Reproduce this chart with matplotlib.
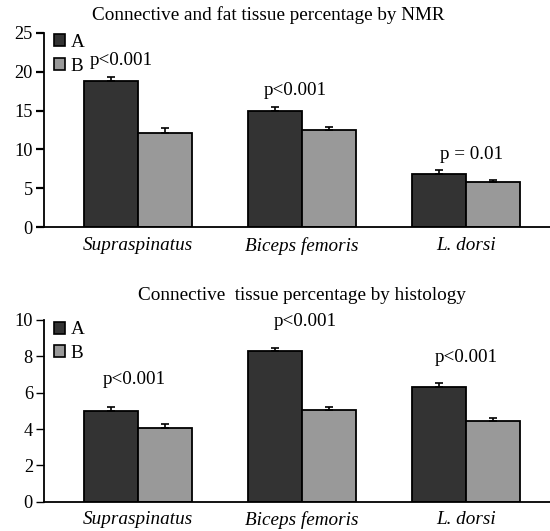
import numpy as np
import matplotlib.pyplot as plt
from matplotlib.patches import Patch

plt.rcParams['font.family'] = ['Liberation Serif', 'DejaVu Serif']

# Data
muscles = ['Supraspinatus', 'Biceps femoris', 'L. dorsi']
groups = ['A', 'B']

nmr_a = [18.85, 14.95, 6.87]
nmr_a_err = [0.45, 0.45, 0.45]
nmr_b = [12.1, 12.5, 5.85]
nmr_b_err = [0.6, 0.4, 0.15]
nmr_p = ['p<0.001', 'p<0.001', 'p = 0.01']

hist_a = [4.99, 8.29, 6.31]
hist_a_err = [0.2, 0.15, 0.2]
hist_b = [4.07, 5.03, 4.46]
hist_b_err = [0.2, 0.18, 0.16]
hist_p = ['p<0.001', 'p<0.001', 'p<0.001']

dark = '#333333'
light = '#999999'
width = 0.33

fig = plt.figure(figsize=(5.5, 5.31), dpi=100)


def draw_panel(ax, a, a_err, b, b_err, ymax, step, p_labels, p_pos, tick_w):
    x = np.arange(len(muscles))
    ekw = dict(ecolor='black', elinewidth=1.2, capsize=3, capthick=1.2)
    ax.bar(x - width / 2, a, width, color=dark, edgecolor='black', linewidth=1.3,
           yerr=[np.zeros(len(a)), a_err], error_kw=ekw)
    ax.bar(x + width / 2, b, width, color=light, edgecolor='black', linewidth=1.3,
           yerr=[np.zeros(len(b)), b_err], error_kw=ekw)
    ax.set_xlim(-0.573, 2.51)
    ax.set_ylim(0, ymax)
    ax.set_yticks(np.arange(0, ymax + 0.01, step))
    ax.set_xticks(x)
    ax.set_xticklabels(muscles, fontstyle='italic', fontsize=13.8)
    ax.tick_params(axis='x', length=0, pad=7)
    ax.tick_params(axis='y', length=5.5, width=tick_w, labelsize=13.2, pad=2.5)
    for s in ['top', 'right']:
        ax.spines[s].set_visible(False)
    for s in ['left', 'bottom']:
        ax.spines[s].set_linewidth(1.3)
    for lab, (px, py) in zip(p_labels, p_pos):
        ax.text(px, py, lab, ha='center', va='center', fontsize=13.8)
    handles = [Patch(facecolor=dark, edgecolor='black', linewidth=1.2),
               Patch(facecolor=light, edgecolor='black', linewidth=1.2)]
    ax.legend(handles, groups, loc='upper left', bbox_to_anchor=(0.0, 1.045), frameon=False,
              handlelength=0.6, handleheight=0.6, handletextpad=0.3, labelspacing=0.35,
              borderaxespad=0.1, fontsize=13.8)


ax1 = fig.add_axes([0.08, 0.5725, 0.92, 0.3654])
draw_panel(ax1, nmr_a, nmr_a_err, nmr_b, nmr_b_err, 25, 5, nmr_p,
           [(-0.1, 21.5), (0.96, 17.65), (2.03, 9.4)], 1.6)
fig.text(0.487, 0.972, 'Connective and fat tissue percentage by NMR', ha='center', va='center', fontsize=13.8)

ax2 = fig.add_axes([0.08, 0.0552, 0.92, 0.3422])
draw_panel(ax2, hist_a, hist_a_err, hist_b, hist_b_err, 10, 2, hist_p,
           [(-0.02, 6.75), (1.02, 9.9), (2.0, 7.96)], 1.0)
fig.text(0.549, 0.444, 'Connective  tissue percentage by histology', ha='center', va='center', fontsize=13.8)

fig.savefig('out.png', dpi=100)
